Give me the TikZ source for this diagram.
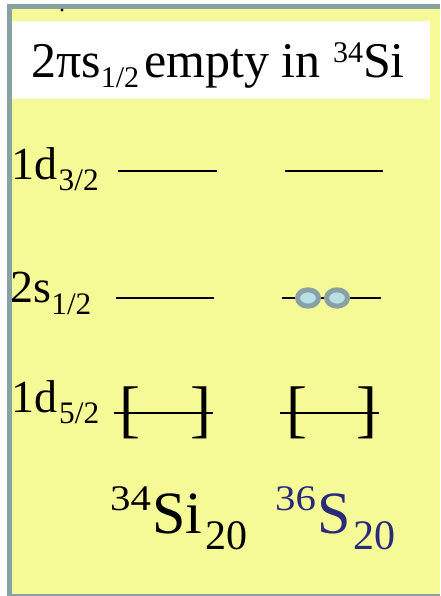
\documentclass[tikz,border=0pt]{standalone}
\usepackage{fontspec}
\setmainfont{Liberation Serif}
\usepackage{graphicx}
\usetikzlibrary{calc}

\definecolor{fondo}{RGB}{245,249,150}
\definecolor{marco}{RGB}{136,162,164}
\definecolor{azulS}{RGB}{42,42,122}
\definecolor{bola}{RGB}{184,224,230}

% indices bajados / subidos
\newcommand{\subtxt}[3][0.68]{\raisebox{-#2}{\scalebox{#1}{#3}}}
\newcommand{\suptxt}[3][0.68]{\raisebox{#2}{\scalebox{#1}[0.6]{#3}}}

\begin{document}
\begin{tikzpicture}[x=1pt, y=-1pt,
    nivel/.style={line width=2.2pt},
    etiq/.style={anchor=base west, inner sep=0pt, font=\fontsize{46}{46}\selectfont},
    corchete/.style={anchor=base west, inner sep=0pt, font=\fontsize{63}{63}\selectfont},
    nucleo/.style={anchor=base west, inner sep=0pt, font=\fontsize{60}{60}\selectfont},
    electron/.style={draw=marco, fill=bola, line width=5pt}]
    \useasboundingbox (0,0) rectangle (440,596);
    % Marco y fondo
    \fill[marco] (7,4) rectangle (440,596);
    \fill[fondo] (12,9) rectangle (440,594);
    \fill[white] (12,21) rectangle (430,99);
    \fill (62,10) circle (1.6);
    % Titulo
    \node[anchor=base west, inner sep=0pt, font=\fontsize{50}{50}\selectfont] (titulo)
        at (31,78) {2πs\subtxt[0.6]{0.2em}{1/2}\kern5pt empty in \suptxt[0.6]{0.3em}{34}Si};
    % Etiquetas de los niveles
    \node[etiq] (d32) at (11,179) {1d\kern1.5pt\subtxt{0.26em}{3/2}};
    \node[etiq] (s12) at (10.3,302) {2s\subtxt{0.27em}{1/2}};
    \node[etiq] (d52) at (11,412) {1d\kern2pt\subtxt{0.26em}{5/2}};
    % Niveles (34Si a la izquierda, 36S a la derecha)
    \foreach \y/\xa/\xb/\xc/\xd in {171/118/217/285/383, 298/116/214/282/381, 413/114/213/280/379}
        \draw[nivel] (\xa,\y) -- (\xb,\y) (\xc,\y) -- (\xd,\y);
    % Corchetes del 1d5/2
    \foreach \x/\br [count=\i] in {119.4/{[}, 189.8/{]}, 286.4/{[}, 355.8/{]}}
        \node[corchete] (br\i) at (\x,430) {\br};
    % Electrones en 2s1/2 del 36S
    \foreach \x in {308,337}
        \draw[electron] (\x,298) ellipse [x radius=10.5, y radius=8.2];
    % Nucleos
    \node[nucleo] (si34) at (110,533)
        {\suptxt{0.38em}{34}\kern1pt Si\kern3pt\subtxt[0.7]{0.28em}{20}};
    \node[nucleo, text=azulS] (s36) at (275,533)
        {\suptxt{0.38em}{36}\kern1pt S\kern3pt\subtxt[0.7]{0.28em}{20}};
\end{tikzpicture}
\end{document}
